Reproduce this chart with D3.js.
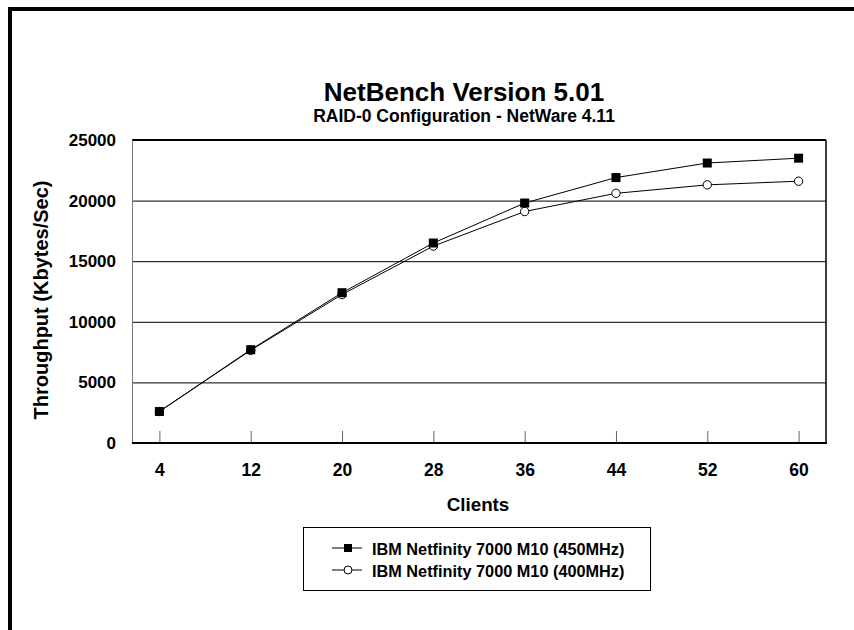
<!DOCTYPE html>
<html>
<head>
<meta charset="utf-8">
<script src="https://cdn.jsdelivr.net/npm/d3@7"></script>
<style>
  html, body { margin: 0; padding: 0; background: #fff; }
  svg { display: block; font-family: "Liberation Sans", Arial, sans-serif; }
</style>
</head>
<body>
<svg id="chart" width="854" height="630"></svg>
<script>
const clients = [4, 12, 20, 28, 36, 44, 52, 60];
const yTicks = [0, 5000, 10000, 15000, 20000, 25000];
const series450 = [2600, 7700, 12400, 16500, 19800, 21900, 23100, 23500];
const series400 = [2600, 7650, 12250, 16250, 19100, 20600, 21300, 21600];
const seriesNames = ["IBM Netfinity 7000 M10 (450MHz)", "IBM Netfinity 7000 M10 (400MHz)"];
const title = "NetBench Version 5.01";
const subtitle = "RAID-0 Configuration - NetWare 4.11";
const xTitle = "Clients";
const yTitle = "Throughput (Kbytes/Sec)";

const svg = d3.select("#chart");
const plot = { left: 132, right: 826, top: 140, bottom: 443 };
const FONT = "'Liberation Sans', Arial, sans-serif";

// outer frame (only left and top edges visible)
svg.append("rect").attr("x", 10).attr("y", 9).attr("width", 900).attr("height", 700)
  .attr("fill", "none").attr("stroke", "#000").attr("stroke-width", 4);

const x = d3.scalePoint().domain(clients).range([plot.left, plot.right]).padding(0.3);
const y = d3.scaleLinear().domain([0, 25000]).range([plot.bottom, plot.top]);

// gridlines
svg.append("g").selectAll("line").data(yTicks.filter(d => d > 0 && d < 25000)).join("line")
  .attr("x1", plot.left).attr("x2", plot.right)
  .attr("y1", d => y(d) + 0.5).attr("y2", d => y(d) + 0.5)
  .attr("stroke", "#000").attr("stroke-width", 1);

// plot border
svg.append("line").attr("x1", plot.left).attr("x2", plot.right).attr("y1", plot.top).attr("y2", plot.top)
  .attr("stroke", "#000").attr("stroke-width", 2);
svg.append("line").attr("x1", plot.right).attr("x2", plot.right).attr("y1", plot.top).attr("y2", plot.bottom)
  .attr("stroke", "#000").attr("stroke-width", 1.5);
svg.append("line").attr("x1", plot.left + 0.5).attr("x2", plot.left + 0.5).attr("y1", plot.top).attr("y2", plot.bottom)
  .attr("stroke", "#777").attr("stroke-width", 1);

// x axis (ticks pointing up inside)
const xAxis = d3.axisBottom(x).tickSize(0);
const gx = svg.append("g").attr("transform", `translate(0,${plot.bottom})`).call(xAxis);
gx.select(".domain").remove();
gx.selectAll(".tick text").attr("y", 33).attr("dy", 0)
  .attr("font-size", 17.5).attr("font-weight", "bold").attr("fill", "#000").attr("font-family", FONT);
gx.selectAll(".tick").append("line").attr("x1", 0).attr("x2", 0).attr("y1", 0).attr("y2", -12)
  .attr("stroke", "#666").attr("stroke-width", 1);
svg.append("line").attr("x1", plot.left).attr("x2", plot.right + 1).attr("y1", plot.bottom).attr("y2", plot.bottom)
  .attr("stroke", "#000").attr("stroke-width", 2);

// y axis labels
const yAxis = d3.axisLeft(y).tickValues(yTicks).tickSize(0).tickPadding(16).tickFormat(d3.format("d"));
const gy = svg.append("g").attr("transform", `translate(${plot.left},0)`).call(yAxis);
gy.select(".domain").remove();
gy.selectAll(".tick text").attr("font-size", 17).attr("font-weight", "bold").attr("fill", "#000")
  .attr("font-family", FONT);

// titles
svg.append("text").attr("x", 464).attr("y", 101).attr("text-anchor", "middle")
  .attr("font-size", 26).attr("font-weight", "bold").text(title);
svg.append("text").attr("x", 464).attr("y", 122).attr("text-anchor", "middle")
  .attr("font-size", 17.5).attr("font-weight", "bold").text(subtitle);
svg.append("text").attr("x", 478).attr("y", 511).attr("text-anchor", "middle")
  .attr("font-size", 18.8).attr("font-weight", "bold").text(xTitle);
svg.append("text").attr("transform", `translate(48,300) rotate(-90)`)
  .attr("text-anchor", "middle").attr("font-size", 20).attr("font-weight", "bold").text(yTitle);

// lines
const line = d3.line().x((d, i) => x(clients[i])).y(d => y(d));
svg.append("path").datum(series400).attr("d", line).attr("fill", "none").attr("stroke", "#000").attr("stroke-width", 1);
svg.append("path").datum(series450).attr("d", line).attr("fill", "none").attr("stroke", "#000").attr("stroke-width", 1);

// markers
svg.append("g").selectAll("circle").data(series400).join("circle")
  .attr("cx", (d, i) => x(clients[i])).attr("cy", d => y(d)).attr("r", 4.2)
  .attr("fill", "#fff").attr("stroke", "#000").attr("stroke-width", 1);
svg.append("g").selectAll("rect").data(series450).join("rect")
  .attr("x", (d, i) => x(clients[i]) - 4.5).attr("y", d => y(d) - 4.5)
  .attr("width", 9).attr("height", 9).attr("fill", "#000");

// legend
const lg = svg.append("g");
lg.append("rect").attr("x", 303.5).attr("y", 527.5).attr("width", 347).attr("height", 63)
  .attr("fill", "#fff").attr("stroke", "#000").attr("stroke-width", 1);
const rows = [548, 570];
seriesNames.forEach((name, i) => {
  const yy = rows[i];
  lg.append("line").attr("x1", 332).attr("x2", 362).attr("y1", yy).attr("y2", yy).attr("stroke", "#000").attr("stroke-width", 1);
  if (i === 0) {
    lg.append("rect").attr("x", 344).attr("y", yy - 4).attr("width", 8).attr("height", 8).attr("fill", "#000");
  } else {
    lg.append("circle").attr("cx", 348).attr("cy", yy).attr("r", 4).attr("fill", "#fff").attr("stroke", "#000");
  }
  lg.append("text").attr("x", 372).attr("y", yy + 6.5).attr("font-size", 16.3).attr("font-weight", "bold").text(name);
});
</script>
</body>
</html>
